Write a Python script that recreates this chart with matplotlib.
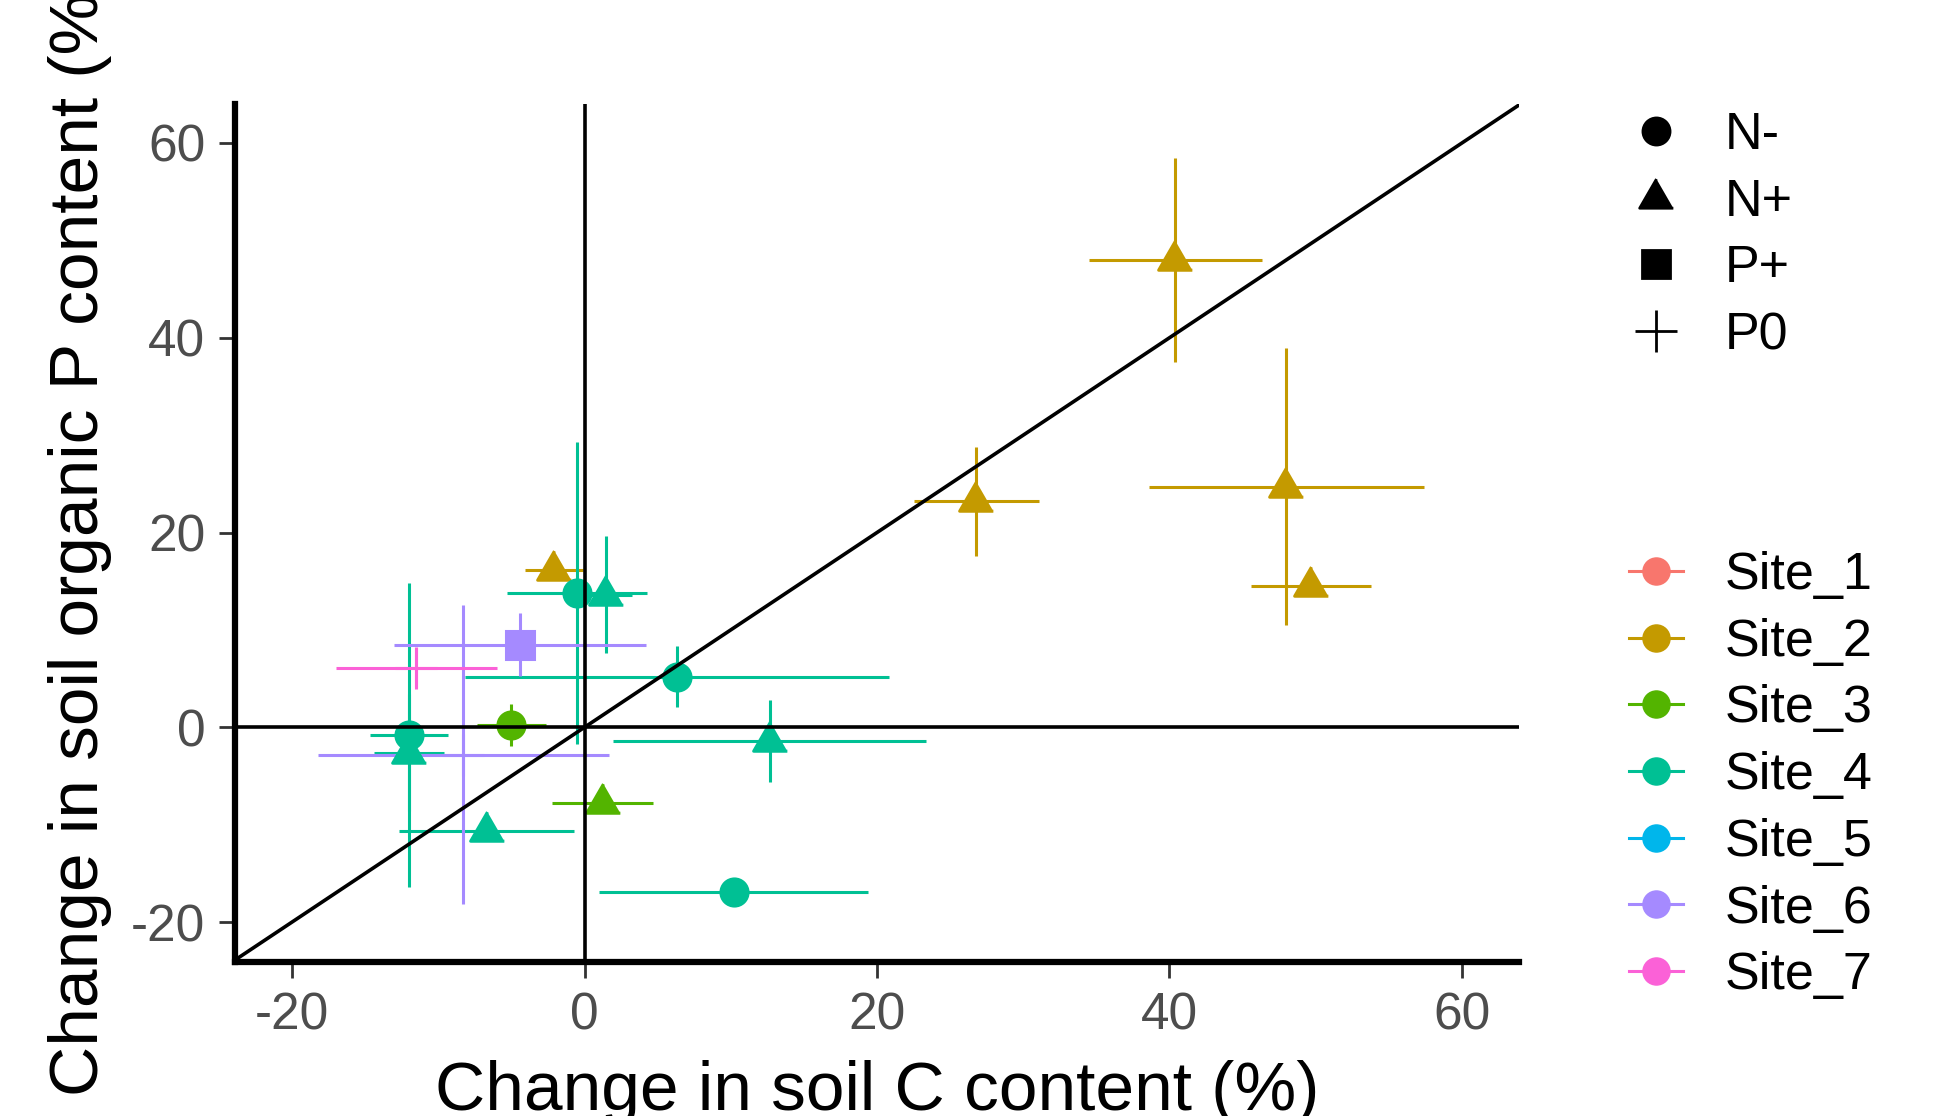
import matplotlib
matplotlib.use("Agg")
import matplotlib.pyplot as plt
from matplotlib.lines import Line2D

plt.rcParams['font.family'] = ['Liberation Sans', 'DejaVu Sans']
plt.rcParams['axes.unicode_minus'] = False

# ---- data ----
site_levels = ["Site_1", "Site_2", "Site_3", "Site_4", "Site_5", "Site_6", "Site_7"]
site_colors = ["#F8766D", "#C49A00", "#53B400", "#00C094", "#00B6EB", "#A58AFF", "#FB61D7"]
treatment_levels = ["N-", "N+", "P+", "P0"]

sites = ["Site_2", "Site_2", "Site_2", "Site_2", "Site_2",
         "Site_3", "Site_3",
         "Site_4", "Site_4", "Site_4", "Site_4", "Site_4", "Site_4", "Site_4", "Site_4",
         "Site_6", "Site_6", "Site_7"]
treatments = ["N+", "N+", "N+", "N+", "N+",
              "N-", "N+",
              "N-", "N+", "N-", "N+", "N-", "N-", "N+", "N+",
              "P+", "P0", "P0"]
c_change = [-2.1, 40.4, 26.8, 48.0, 49.7,
            -5.0, 1.25,
            -0.5, 1.45, 6.35, 12.65, 10.2, -12.0, -12.0, -6.7,
            -4.4, -8.3, -11.5]
c_se = [2.0, 5.9, 4.3, 9.4, 4.1,
        2.35, 3.45,
        4.8, 1.8, 14.5, 10.7, 9.2, 2.65, 2.4, 6.0,
        8.6, 9.95, 5.5]
p_change = [16.2, 48.0, 23.2, 24.7, 14.5,
            0.2, -7.8,
            13.8, 13.6, 5.2, -1.4, -16.9, -0.8, -2.6, -10.7,
            8.5, -2.8, 6.1]
p_se = [1.0, 10.5, 5.6, 14.2, 1.0,
        2.15, 1.0,
        15.5, 6.0, 3.15, 4.25, 1.0, 15.6, 6.0, 1.0,
        3.25, 15.35, 2.0]

# ---- styles ----
tri = [(0, 1), (-0.866, -0.5), (0.866, -0.5)]
shape_marker = {"N-": "o", "N+": tri, "P+": "s", "P0": "+"}
shape_size = {"N-": 19.5, "N+": 28, "P+": 19.5, "P0": 30}
color_of = dict(zip(site_levels, site_colors))

fig = plt.figure(figsize=(19.6, 11.16), dpi=100)
ax = fig.add_axes([0.1199, 0.138, 0.6551, 0.7688])

# error bars
for s, t, x, xe, y, ye in zip(sites, treatments, c_change, c_se, p_change, p_se):
    ax.errorbar(x, y, xerr=xe, yerr=ye, fmt="none", ecolor=color_of[s],
                elinewidth=2.2, capsize=0, zorder=2)
# points
for s, t, x, y in zip(sites, treatments, c_change, p_change):
    ax.plot([x], [y], linestyle="none", marker=shape_marker[t],
            markersize=shape_size[t], color=color_of[s], mew=2.2, zorder=3)

# reference lines
ax.axhline(0, color="black", lw=2.6, zorder=4)
ax.axvline(0, color="black", lw=2.6, zorder=4)
ax.axline((0, 0), slope=1, color="black", lw=2.6, zorder=4)

ax.set_xlim(-23.9, 63.9)
ax.set_ylim(-24.1, 64.0)
ax.set_xticks([-20, 0, 20, 40, 60])
ax.set_yticks([-20, 0, 20, 40, 60])
ax.tick_params(axis="both", length=11.5, width=2.0, color="#333333",
               labelsize=37, labelcolor="#4D4D4D", pad=10)
for side in ["top", "right"]:
    ax.spines[side].set_visible(False)
for side in ["left", "bottom"]:
    ax.spines[side].set_linewidth(4.5)
    ax.spines[side].set_color("black")

ax.set_xlabel("Change in soil C content (%)", fontsize=50)
ax.xaxis.set_label_coords(0.5, -0.114)
ax.set_ylabel("Change in soil organic P content (%)", fontsize=50)
ax.yaxis.set_label_coords(-0.0958, 0.5)

# legends
shape_handles = [Line2D([], [], linestyle="none", marker=shape_marker[t],
                        markersize=shape_size[t], color="black", mew=2.0)
                 for t in treatment_levels]
site_handles = [Line2D([], [], linestyle="-", lw=2.2, marker="o", markersize=19.5,
                       color=c) for c in site_colors]
common = dict(loc="upper left", frameon=False, borderpad=0, borderaxespad=0,
              fontsize=37.5, handlelength=1.04, handletextpad=0.81, labelspacing=0.34)
fig.legend(shape_handles, treatment_levels, bbox_to_anchor=(0.831, 0.9005), **common)
fig.legend(site_handles, site_levels, bbox_to_anchor=(0.831, 0.5062), **common)

fig.savefig("out.png", dpi=100)
